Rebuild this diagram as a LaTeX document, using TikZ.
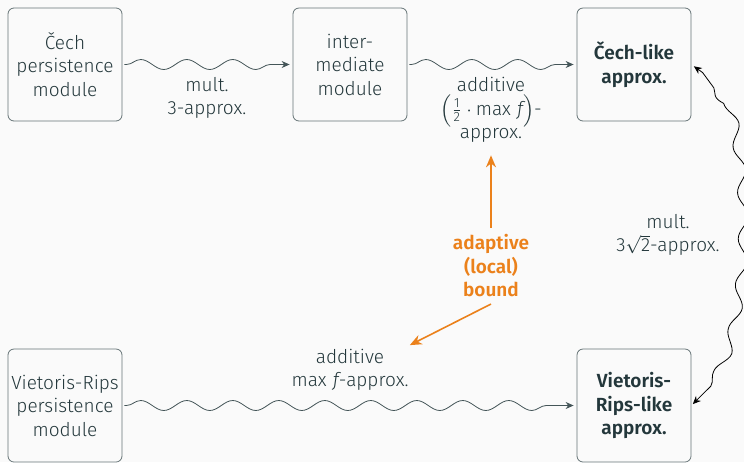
\documentclass[tikz,border=0pt]{standalone}
\usepackage{amsmath}
\usepackage{fontspec}
\setmainfont{Fira Sans}[UprightFont=* Light, BoldFont=* SemiBold, ItalicFont=* Light Italic, BoldItalicFont=* SemiBold Italic]
\usetikzlibrary{arrows.meta, decorations.pathmorphing}
\definecolor{mDarkTeal}{HTML}{23373B}
\definecolor{mOrange}{HTML}{EB811B}
\definecolor{mBg}{HTML}{FAFAFA}
\begin{document}
\fontsize{9.5}{11.75}\selectfont
\begin{tikzpicture}[x=0.5pt, y=-0.5pt, text=mDarkTeal,
    box/.style={rectangle, draw=mDarkTeal!70, rounded corners=3pt, minimum width=57pt, minimum height=56.5pt, align=center, inner sep=1pt},
    lbl/.style={align=center},
    wavy/.style={draw=mDarkTeal!85, decorate, decoration={snake, amplitude=2.5pt, segment length=23pt, pre length=2pt, post length=6pt}, -{Stealth[length=4pt, width=3.5pt]}, shorten <=1pt, shorten >=1.5pt},
    hint/.style={draw=mOrange, thick, -{Stealth[length=6pt, width=5pt]}}
]
    \fill[mBg] (0,0) rectangle (744,462);
    \useasboundingbox (0,0) rectangle (744,462);

    % Row 1: Cech side
    \node[box] (cech) at (65,64.5) {Čech\\persistence\\module};
    \node[box] (inter) at (350,64.5) {inter-\\mediate\\module};
    \node[box, font=\bfseries] (cechlike) at (634,64.5) {Čech-like\\approx.};

    % Row 2: Vietoris-Rips side
    \node[box] (vr) at (65,405.5) {Vietoris-Rips\\persistence\\module};
    \node[box, font=\bfseries] (vrlike) at (634,405.5) {Vietoris-\\Rips-like\\approx.};

    % Labels of the approximations
    \node[lbl] (mult3) at (207,98) {mult.\\3-approx.};
    \node[lbl] (addhalf) at (491,110) {additive\\$\Bigl(\frac{\text{1}}{\text{2}}\cdot\max\,\textit{f}\Bigr)$-\\approx.};
    \node[lbl] (mult32) at (668,235) {mult.\\$\text{3}\sqrt{\text{2}}$-approx.};
    \node[lbl] (addmax) at (350,370) {additive\\$\max\,\textit{f}$-approx.};
    \node[font=\bfseries, text=mOrange, align=center] (bound) at (491,266) {adaptive\\(local)\\bound};

    % Wavy approximation arrows
    \draw[wavy] (cech) -- (inter);
    \draw[wavy] (inter) -- (cechlike);
    \draw[wavy] (vr) -- (vrlike);
    \draw[wavy, draw=black, {Stealth[length=4pt, width=3.5pt]}-{Stealth[length=4pt, width=3.5pt]}, decoration={pre length=14pt, post length=7pt}] (vrlike.east) to[bend right=68, looseness=0.5] (cechlike.east);

    % Adaptive bound
    \draw[hint, shorten >=3pt] (bound) -- (addhalf);
    \draw[hint, shorten >=-3pt] (bound.south) -- (addmax.north east);
\end{tikzpicture}
\end{document}
